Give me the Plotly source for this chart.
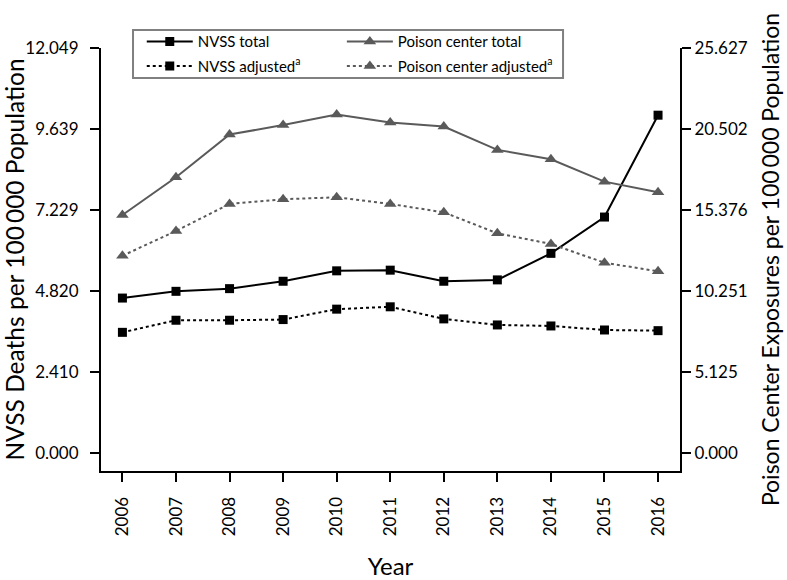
import plotly.graph_objects as go

years = [2006, 2007, 2008, 2009, 2010, 2011, 2012, 2013, 2014, 2015, 2016]
nvss_total = [4.61, 4.81, 4.89, 5.11, 5.42, 5.44, 5.11, 5.15, 5.94, 7.02, 10.05]
nvss_adj = [3.59, 3.95, 3.95, 3.97, 4.28, 4.35, 3.99, 3.81, 3.78, 3.66, 3.64]
pc_total = [15.06, 17.45, 20.15, 20.75, 21.42, 20.91, 20.66, 19.18, 18.59, 17.17, 16.50]
pc_adj = [12.48, 14.05, 15.76, 16.06, 16.18, 15.76, 15.23, 13.90, 13.23, 12.04, 11.50]

left_ticks = [0.0, 2.410, 4.820, 7.229, 9.639, 12.049]
left_labels = ["0.000", "2.410", "4.820", "7.229", "9.639", "12.049"]
right_ticks = [0.0, 5.125, 10.251, 15.376, 20.502, 25.627]
right_labels = ["0.000", "5.125", "10.251", "15.376", "20.502", "25.627"]

FONT = "Lato"
GRAY = "#5a5a5a"

fig = go.Figure()
fig.add_trace(go.Scatter(x=years, y=nvss_total, name="NVSS total", mode="lines+markers",
                         line=dict(color="black", width=2), legend="legend", legendgroup="a",
                         marker=dict(symbol="square", size=9, color="black"), yaxis="y"))
fig.add_trace(go.Scatter(x=years, y=nvss_adj, name="NVSS adjusted<sup>a</sup>", mode="lines+markers",
                         line=dict(color="black", width=2, dash="dot"), legend="legend", legendgroup="b",
                         marker=dict(symbol="square", size=9, color="black"), yaxis="y"))
fig.add_trace(go.Scatter(x=years, y=pc_total, name="Poison center total", mode="lines+markers",
                         line=dict(color=GRAY, width=2), legend="legend2", legendgroup="c",
                         marker=dict(symbol="triangle-up", size=11, color=GRAY), yaxis="y2"))
fig.add_trace(go.Scatter(x=years, y=pc_adj, name="Poison center adjusted<sup>a</sup>", mode="lines+markers",
                         line=dict(color=GRAY, width=2, dash="dot"), legend="legend2", legendgroup="d",
                         marker=dict(symbol="triangle-up", size=11, color=GRAY), yaxis="y2"))

left_range = [-0.535, 12.049]
right_range = [left_range[0] * 25.627 / 12.049, 25.627]

legend_common = dict(orientation="v", yanchor="top", xanchor="left", borderwidth=0,
                     bgcolor="rgba(0,0,0,0)", font=dict(size=15), tracegroupgap=2,
                     traceorder="grouped", itemwidth=46)

fig.update_layout(
    width=787, height=580,
    margin=dict(l=101, r=107, t=48, b=109, autoexpand=False),
    paper_bgcolor="white", plot_bgcolor="white",
    font=dict(family=FONT, size=16, color="black"),
    showlegend=True,
    legend=dict(x=0.0704, y=1.054, **legend_common),
    legend2=dict(x=0.416, y=1.054, **legend_common),
    shapes=[dict(type="rect", xref="paper", yref="paper",
                 x0=0.0553, x1=0.798, y0=0.929, y1=1.0426,
                 line=dict(color="#808080", width=2), fillcolor="rgba(0,0,0,0)", layer="below")],
    xaxis=dict(range=[2005.60, 2016.41], tickvals=years, ticktext=[str(y) for y in years],
               tickangle=-90, ticks="outside", ticklen=9, tickwidth=2, tickcolor="black",
               showline=True, linecolor="black", linewidth=2, showgrid=False, zeroline=False,
               ticklabelstandoff=8,
               title=dict(text="Year", font=dict(size=24), standoff=25),
               tickfont=dict(size=17), automargin=False),
    yaxis=dict(range=left_range, tickvals=left_ticks, ticktext=left_labels,
               ticks="outside", ticklen=9, tickwidth=2, tickcolor="black",
               showline=True, linecolor="black", linewidth=2, showgrid=False, zeroline=False,
               ticklabelstandoff=8,
               title=dict(text="NVSS Deaths per 100\u2009000 Population", font=dict(size=24.5), standoff=1),
               tickfont=dict(size=17), automargin=False),
    yaxis2=dict(range=right_range, tickvals=right_ticks, ticktext=right_labels,
                overlaying="y", side="right",
                ticks="outside", ticklen=9, tickwidth=2, tickcolor="black",
                showline=True, linecolor="black", linewidth=2, showgrid=False, zeroline=False,
                title=dict(text="Poison Center Exposures per 100\u2009000 Population", font=dict(size=23), standoff=16),
                tickfont=dict(size=17), automargin=False),
)

fig.write_html("out.html", config={"displayModeBar": False},
               post_script="document.body.style.margin='0';")
